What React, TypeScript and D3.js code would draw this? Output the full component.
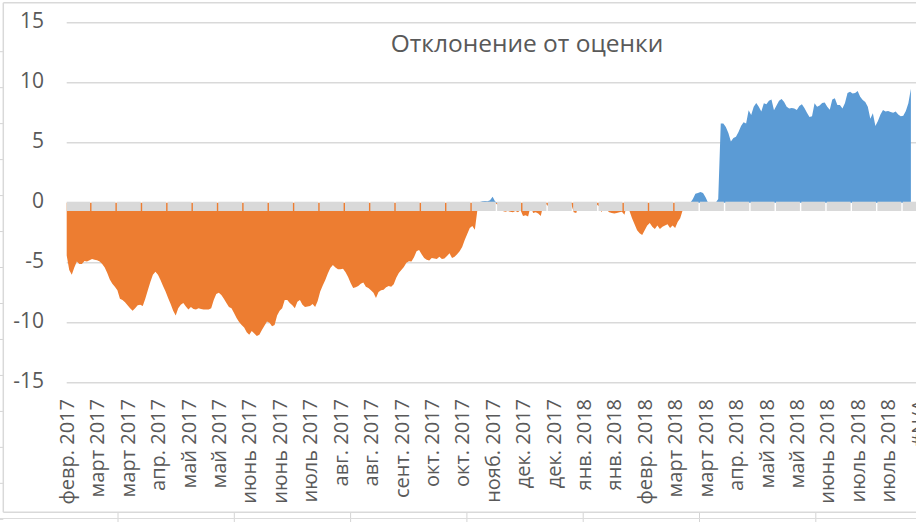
import React from 'react';
import * as d3 from 'd3';

// Deviation from the estimate, one value per trading day
const values: number[] = [
  -4.4, -5.6, -6.0, -5.4, -4.9, -5.1, -5.1, -4.85, -4.9, -4.8,
  -4.7, -4.75, -4.8, -4.9, -5.1, -5.4, -5.85, -6.4, -6.75, -7.0,
  -7.3, -8.0, -8.1, -8.3, -8.55, -8.8, -9.0, -8.8, -8.55, -8.5,
  -8.6, -8.0, -7.3, -6.6, -6.0, -5.75, -6.0, -6.45, -6.95, -7.4,
  -7.95, -8.45, -9.0, -9.4, -8.8, -8.5, -8.35, -8.65, -8.9, -8.7,
  -8.85, -8.9, -8.8, -8.85, -8.9, -8.9, -8.9, -8.8, -8.1, -7.6,
  -7.5, -7.7, -8.0, -8.35, -8.7, -8.8, -9.2, -9.6, -9.95, -10.2,
  -10.4, -10.8, -11.0, -10.7, -10.9, -11.1, -11.0, -10.6, -10.25, -9.9,
  -10.0, -10.3, -10.2, -9.4, -9.0, -8.8, -8.1, -8.1, -8.35, -8.55,
  -8.8, -8.25, -8.1, -8.5, -8.7, -8.65, -8.6, -8.45, -8.7, -8.2,
  -7.4, -6.9, -6.45, -5.9, -5.45, -5.2, -5.4, -5.55, -5.55, -5.5,
  -5.8, -6.2, -6.7, -7.1, -7.05, -6.95, -6.75, -6.65, -7.0, -7.1,
  -7.3, -7.5, -7.95, -7.45, -7.3, -7.25, -7.05, -6.95, -7.0, -6.8,
  -6.25, -5.85, -5.6, -5.35, -5.0, -4.88, -4.9, -4.55, -4.05, -3.95,
  -4.3, -4.6, -4.75, -4.82, -4.6, -4.65, -4.7, -4.5, -4.7, -4.65,
  -4.45, -4.22, -4.6, -4.5, -4.3, -4.05, -3.7, -3.1, -2.6, -2.1,
  -1.95, -2.25, -0.6, 0.05, 0.12, 0.15, 0.12, 0.2, 0.5, 0.1,
  -0.2, -0.1, -0.7, -0.75, -0.7, -0.75, -0.8, -0.7, -0.8, -0.6,
  -1.1, -1.05, -1.15, -0.3, -0.85, -0.8, -0.9, -1.1, -0.2, -0.1,
  -0.3, 0, 0, 0, -0.05, 0, -0.05, 0, 0, -0.1,
  -0.8, -0.85, -0.1, 0, -0.2, -0.15, -0.2, -0.1, -0.2, -0.15,
  -0.3, -0.8, -0.3, -0.6, -0.8, -0.85, -0.9, -0.85, -0.8, -0.75,
  -1.0, -0.2, -0.7, -1.3, -1.8, -2.3, -2.55, -2.7, -2.3, -1.9,
  -1.7, -2.0, -2.2, -1.9, -2.2, -2.0, -1.9, -1.8, -2.1, -1.9,
  -2.1, -1.6, -1.3, -0.6, 0, 0, 0, 0.3, 0.75, 0.8,
  0.9, 0.8, 0.45, 0, -0.1, -0.1, -0.05, 0.3, 6.6, 6.6,
  6.3, 5.8, 5.1, 5.4, 5.5, 5.9, 6.4, 6.7, 6.6, 7.7,
  7.3, 8.0, 8.3, 8.0, 7.6, 8.28, 8.2, 8.5, 8.6, 7.7,
  8.1, 8.5, 8.65, 8.4, 8.0, 7.86, 7.9, 7.85, 7.72, 8.06,
  8.2, 7.9, 7.5, 7.15, 7.2, 8.28, 8.0, 8.1, 8.3, 8.35,
  8.0, 7.75, 8.6, 8.7, 8.14, 8.14, 7.85, 8.3, 9.15, 9.25,
  9.1, 9.15, 9.3, 8.83, 8.55, 8.4, 8.0, 7.0, 7.45, 6.4,
  6.8, 7.35, 7.72, 7.6, 7.65, 7.55, 7.5, 7.6, 7.35, 7.2,
  7.25, 7.65, 8.28, 9.5,
];

// Category labels shown on the axis (every LABEL_EVERY-th category)
const categoryLabels: string[] = [
  'февр. 2017', 'март 2017', 'март 2017', 'апр. 2017', 'май 2017', 'май 2017',
  'июнь 2017', 'июнь 2017', 'июль 2017', 'авг. 2017', 'авг. 2017', 'сент. 2017',
  'окт. 2017', 'окт. 2017', 'нояб. 2017', 'дек. 2017', 'дек. 2017', 'янв. 2018',
  'янв. 2018', 'февр. 2018', 'март 2018', 'март 2018', 'апр. 2018', 'май 2018',
  'май 2018', 'июнь 2018', 'июль 2018', 'июль 2018', '#N/A',
];

const yTicks: number[] = [-15, -10, -5, 0, 5, 10, 15];
const gridValues: number[] = [-15, -10, -5, 5, 10, 15];
const title = 'Отклонение от оценки';

const LABEL_EVERY = 12;
const TICK_EVERY = 10;
const N_CATEGORIES = (categoryLabels.length - 1) * LABEL_EVERY + 1;

const W = 916;
const H = 522;
const FONT = "'Open Sans', 'Noto Sans', sans-serif";
const TEXT = '#595959';
const GRID = '#d9d9d9';
const ORANGE = '#ed7d31';
const BLUE = '#5b9bd5';

export default function App() {
  const x = d3.scaleLinear().domain([0, N_CATEGORIES - 1]).range([66.7, 918.5]);
  const y = d3.scaleLinear().domain([-15, 15]).range([382.7, 22.7]);

  const negArea = d3
    .area<number>()
    .x((_, i) => x(i))
    .y0(y(0))
    .y1((d) => y(Math.min(d, 0)));
  const posArea = d3
    .area<number>()
    .x((_, i) => x(i))
    .y0(y(0))
    .y1((d) => y(Math.max(d, 0)));

  const tickIdx = d3.range(TICK_EVERY, N_CATEGORIES, TICK_EVERY);
  const bandTop = y(0) - 1;
  const bandBottom = y(0) + 8.3;

  const rowLines = d3.range(0, 14).map((k) => 51.7 + k * 35.97);
  const colLines = d3.range(0, 7).map((k) => 118 + k * 116.3);

  return (
    <svg
      width={W}
      height={H}
      style={{ position: 'absolute', left: 0, top: 0, background: '#fff' }}
      fontFamily={FONT}
    >
      <rect x={0} y={0} width={W} height={H} fill="#fff" />
      {/* spreadsheet remnants */}
      {rowLines.map((ry, i) => (
        <line key={'r' + i} x1={0} x2={3.3} y1={ry} y2={ry} stroke="#d4d4d4" strokeWidth={1} />
      ))}
      {colLines.map((cx, i) => (
        <line key={'c' + i} x1={cx} x2={cx} y1={512.3} y2={H} stroke="#d4d4d4" strokeWidth={1} />
      ))}
      <line x1={0} x2={W} y1={518.5} y2={518.5} stroke="#dcdcdc" strokeWidth={1.2} />
      {/* chart border */}
      <line x1={3.3} x2={W} y1={2.7} y2={2.7} stroke={GRID} strokeWidth={1.5} />
      <line x1={3.3} x2={3.3} y1={2.7} y2={512.3} stroke={GRID} strokeWidth={1.5} />
      <line x1={3.3} x2={W} y1={512.3} y2={512.3} stroke={GRID} strokeWidth={1.5} />

      {/* gridlines */}
      {gridValues.map((v) => (
        <line key={'g' + v} x1={x(0)} x2={W} y1={y(v)} y2={y(v)} stroke={GRID} strokeWidth={1.5} />
      ))}

      {/* areas */}
      <path d={negArea(values) || ''} fill={ORANGE} />
      <path d={posArea(values) || ''} fill={BLUE} />

      {/* thick category axis band with tick gaps */}
      <defs>
        <mask id="bandMask" maskUnits="userSpaceOnUse" x={0} y={0} width={W} height={H}>
          <rect x={0} y={0} width={W} height={H} fill="white" />
          {tickIdx.map((i) => (
            <line
              key={'m' + i}
              x1={x(i - 0.5)}
              x2={x(i - 0.5)}
              y1={bandTop - 1}
              y2={bandBottom + 1}
              stroke="black"
              strokeWidth={1.4}
            />
          ))}
        </mask>
      </defs>
      <rect
        x={x(0)}
        y={bandTop}
        width={x(N_CATEGORIES - 1) - x(0)}
        height={bandBottom - bandTop}
        fill="#d9d9d9"
        mask="url(#bandMask)"
      />

      {/* y-axis labels */}
      {yTicks.map((v) => (
        <text key={'y' + v} x={44} y={y(v) + 5.6} textAnchor="end" fontSize={21} fill={TEXT}>
          {v}
        </text>
      ))}

      {/* x-axis labels */}
      {categoryLabels.map((lab, k) => (
        <text
          key={'x' + k}
          transform={`translate(${x(k * LABEL_EVERY)},399) rotate(-90)`}
          textAnchor="end"
          dy="0.36em"
          fontSize={20}
          fill={TEXT}
        >
          {lab}
        </text>
      ))}

      {/* title */}
      <text x={527} y={52} textAnchor="middle" fontSize={24.5} fill={TEXT}>
        {title}
      </text>
    </svg>
  );
}
